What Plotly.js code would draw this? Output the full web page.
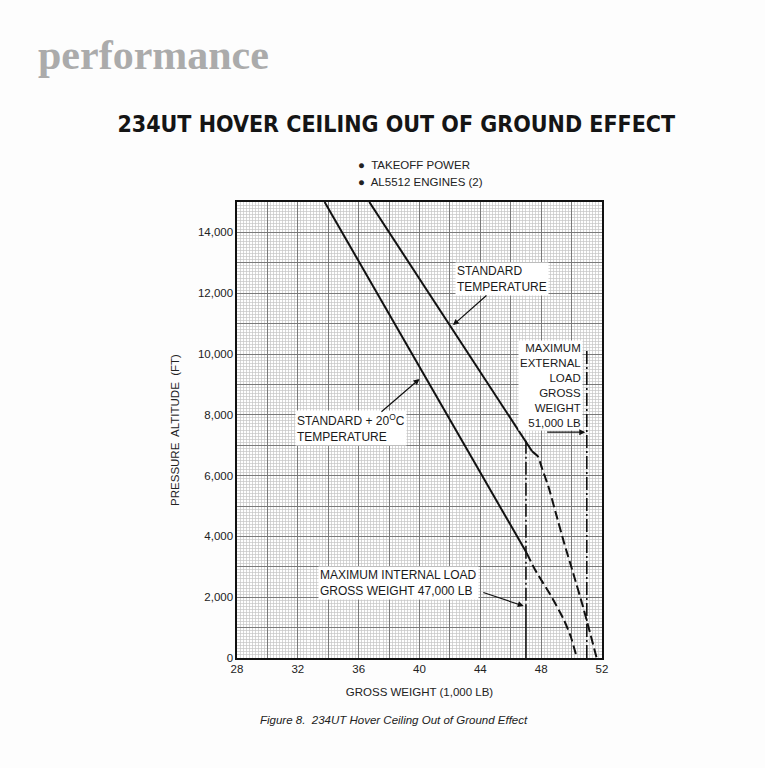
<!DOCTYPE html>
<html>
<head>
<meta charset="utf-8">
<script src="https://cdn.plot.ly/plotly-3.0.1.min.js"></script>
<style>
html,body{margin:0;padding:0;background:#fdfdfd;}
#chart{width:765px;height:768px;}
</style>
</head>
<body>
<div id="chart"></div>
<script>
// ---- data ----
const xTickLabels = ['28', '32', '36', '40', '44', '48', '52'];
const yTickLabels = ['0', '2,000', '4,000', '6,000', '8,000', '10,000', '12,000', '14,000'];

// Standard temperature (solid then dashed)
const stdSolidX = [36.7, 47.4];
const stdSolidY = [15000, 6800];
const stdDashX = [47.4, 47.8, 48.05, 48.5, 49.0, 49.5, 50.1, 50.8, 51.65];
const stdDashY = [6800, 6620, 6250, 5600, 4700, 3800, 2800, 1600, 0];

// Standard + 20 C (solid then dashed)
const hotSolidX = [33.76, 47.05];
const hotSolidY = [15000, 3450];
const hotDashX = [47.05, 47.6, 48.7, 49.5, 49.95, 50.35];
const hotDashY = [3450, 2900, 2000, 1250, 700, 0];

// Gross weight limits (1,000 lb) and their altitude extents
const internalLimit = 47;
const internalUpperY = [7150, 1750];
const internalLowerY = [1750, 0];
const externalLimit = 51;
const externalY = [10100, 0];

const bullets = ['TAKEOFF POWER', 'AL5512 ENGINES (2)'];

// ---- build ----
const xGrid = [];
for (let v = 28; v <= 52; v += 2) xGrid.push(v);
const xText = xGrid.map(v => (xTickLabels.includes(String(v)) ? String(v) : ''));
const yGrid = [];
for (let v = 0; v <= 15000; v += 1000) yGrid.push(v);
const yText = yGrid.map(v => {
  const s = v.toLocaleString('en-US');
  return yTickLabels.includes(s) ? s : '';
});

const solid = {color: '#111', width: 2};
const dashed = {color: '#111', width: 2, dash: '9px,4px', shape: 'spline', smoothing: 0.5};

const traces = [
  {x: stdSolidX, y: stdSolidY, mode: 'lines', line: solid},
  {x: stdDashX, y: stdDashY, mode: 'lines', line: dashed},
  {x: hotSolidX, y: hotSolidY, mode: 'lines', line: solid},
  {x: hotDashX, y: hotDashY, mode: 'lines', line: dashed},
  {x: [internalLimit, internalLimit], y: internalUpperY, mode: 'lines',
   line: {color: '#111', width: 1.6, dash: '13px,3px,2px,3px'}},
  {x: [internalLimit, internalLimit], y: internalLowerY, mode: 'lines',
   line: {color: '#111', width: 1.6}},
  {x: [externalLimit, externalLimit], y: externalY, mode: 'lines',
   line: {color: '#111', width: 1.6, dash: '13px,3px,2px,3px'}}
];

const sans = 'Liberation Sans, Arial, sans-serif';
const labFont = {family: sans, size: 12, color: '#1a1a1a'};
function arrow(hx, hy, tx, ty) {
  return {x: hx, y: hy, ax: tx, ay: ty, xref: 'x', yref: 'y', axref: 'x', ayref: 'y',
          text: '', showarrow: true, arrowhead: 2, arrowsize: 1, arrowwidth: 1.2,
          arrowcolor: '#111'};
}
function label(x, y, text, xanchor, align, size) {
  return {x: x, y: y, xref: 'x', yref: 'y', text: text, showarrow: false,
          xanchor: xanchor, yanchor: 'middle', align: align,
          font: {family: labFont.family, size: size || labFont.size, color: labFont.color},
          bgcolor: '#ffffff', borderpad: 1};
}

const annotations = [
  label(42.35, 12480, 'STANDARD<br>TEMPERATURE', 'left', 'left'),
  arrow(42.2, 10950, 44.5, 11970),
  label(31.8, 7560, 'STANDARD + 20<sup>O</sup>C<br>TEMPERATURE', 'left', 'left'),
  arrow(40.0, 9180, 37.4, 8060),
  label(33.3, 2480, 'MAXIMUM INTERNAL LOAD<br>GROSS WEIGHT 47,000 LB', 'left', 'left'),
  arrow(46.85, 1710, 44.1, 2170),
  label(50.75, 8980, 'MAXIMUM<br>EXTERNAL<br>LOAD<br>GROSS<br>WEIGHT<br>51,000 LB', 'right', 'right', 11.5),
  arrow(50.9, 7430, 48.3, 7430),
  // header texts
  {xref: 'paper', yref: 'paper', x: -0.552, y: 1.322, xanchor: 'left', yanchor: 'middle',
   text: '<b>performance</b>', showarrow: false,
   font: {family: 'Liberation Serif, serif', size: 42, color: '#ababab'}},
  {xref: 'paper', yref: 'paper', x: 0.325, y: 1.081, xanchor: 'left', yanchor: 'middle',
   text: '●  ' + bullets[0], showarrow: false,
   font: {family: sans, size: 11.5, color: '#222'}},
  {xref: 'paper', yref: 'paper', x: 0.325, y: 1.044, xanchor: 'left', yanchor: 'middle',
   text: '●  ' + bullets[1], showarrow: false,
   font: {family: sans, size: 11.5, color: '#222'}},
  {xref: 'paper', yref: 'paper', x: 0.43, y: -0.136, xanchor: 'center', yanchor: 'middle',
   text: '<i>Figure 8.  234UT Hover Ceiling Out of Ground Effect</i>', showarrow: false,
   font: {family: sans, size: 11.5, color: '#222'}}
];

const layout = {
  width: 765, height: 768,
  paper_bgcolor: '#fdfdfd', plot_bgcolor: '#ffffff',
  margin: {l: 237, r: 163, t: 202, b: 110},
  showlegend: false,
  title: {text: '<b>234UT HOVER CEILING OUT OF GROUND EFFECT</b>',
          xref: 'container', yref: 'container', x: 0.518, y: 0.839,
          xanchor: 'center', yanchor: 'middle',
          font: {family: 'DejaVu Sans Condensed, Liberation Sans, sans-serif', size: 23, color: '#151515'}},
  xaxis: {range: [28, 52], tickmode: 'array', tickvals: xGrid, ticktext: xText,
          ticks: '', showgrid: true, gridcolor: '#7a7a7a', gridwidth: 1,
          minor: {dtick: 0.2, showgrid: true, gridcolor: '#c6c6c6', gridwidth: 0.7},
          showline: true, mirror: true, linecolor: '#111', linewidth: 1.6,
          zeroline: false, tickfont: {family: sans, size: 11.5, color: '#222'},
          title: {text: 'GROSS WEIGHT (1,000 LB)', standoff: 13,
                  font: {family: sans, size: 11.5, color: '#222'}}},
  yaxis: {range: [0, 15000], tickmode: 'array', tickvals: yGrid, ticktext: yText,
          ticks: '', showgrid: true, gridcolor: '#7a7a7a', gridwidth: 1,
          minor: {dtick: 100, showgrid: true, gridcolor: '#c6c6c6', gridwidth: 0.7},
          showline: true, mirror: true, linecolor: '#111', linewidth: 1.6,
          zeroline: false, tickfont: {family: sans, size: 11.5, color: '#222'},
          title: {text: 'PRESSURE  ALTITUDE  (FT)', standoff: 16,
                  font: {family: sans, size: 11.5, color: '#222'}}},
  annotations: annotations
};

Plotly.newPlot('chart', traces, layout, {displayModeBar: false, staticPlot: true});
</script>
</body>
</html>
